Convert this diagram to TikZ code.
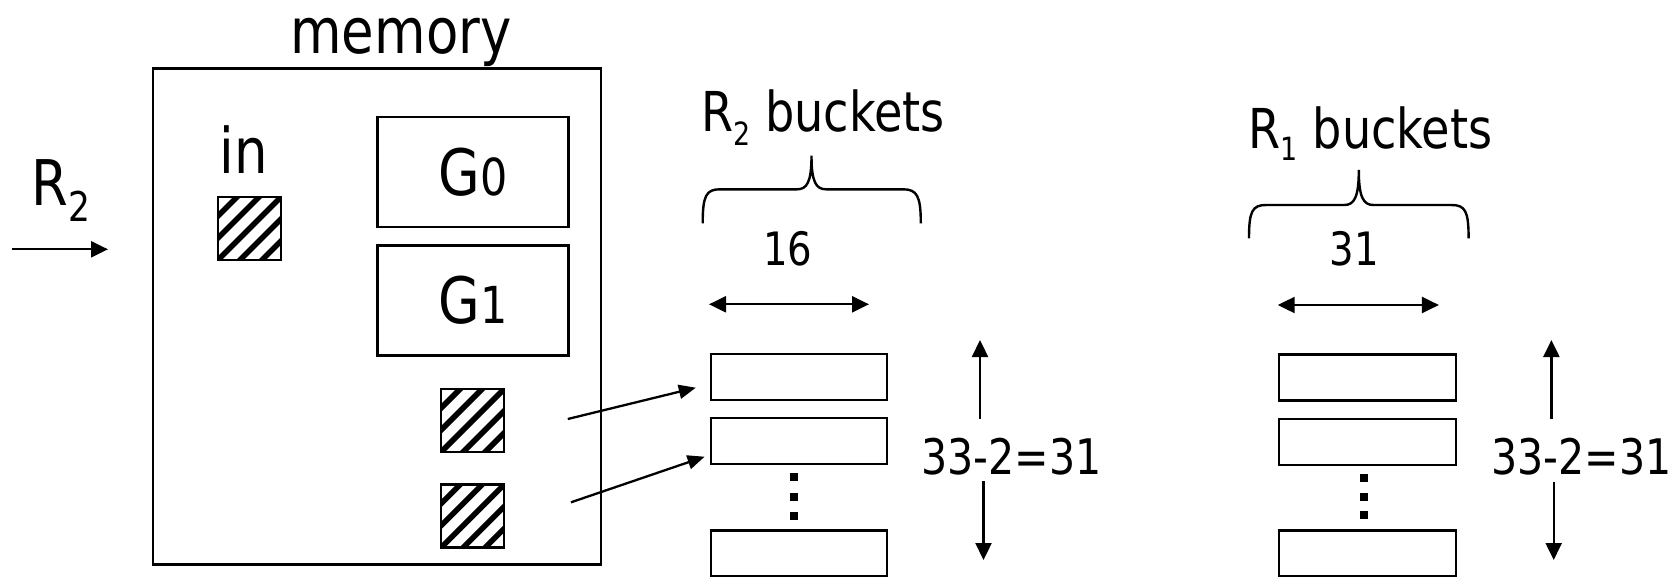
\documentclass[tikz,border=0pt]{standalone}
\usepackage{fontspec}
\setmainfont{DejaVu Sans}[FakeStretch=0.84]
\usetikzlibrary{arrows.meta}
\newcommand{\fsz}[1]{\fontsize{#1}{#1}\selectfont}
\begin{document}
\begin{tikzpicture}[x=1pt,y=-1pt,
  txt/.style={inner sep=0pt, anchor=base},
  box/.style={draw, line width=2.4pt, inner sep=0pt, anchor=north west},
  gbox/.style={box, minimum width=191pt, minimum height=110pt},
  bucket/.style={box, minimum width=176pt, minimum height=46pt},
  dotsq/.style={fill, inner sep=0pt, minimum size=8pt},
  hatch/.style={box, minimum size=63pt,
    path picture={\foreach \k in {-4,...,4}{\draw[line width=5.5pt, shift={(path picture bounding box.center)}] (\k*22-60,60) -- (\k*22+60,-60);}}},
  arr/.style={line width=2.3pt, -{Triangle[length=17pt,width=16pt]}},
  darr/.style={line width=2.3pt, {Triangle[length=17pt,width=16pt]}-{Triangle[length=17pt,width=16pt]}},
  bracepath/.style={line width=2.4pt}
]
\useasboundingbox (0,0) rectangle (1676,576);

% memory
\node[txt] (memlbl) at (401,53) {\fsz{63}memory};
\node[box, line width=2.8pt, minimum width=448pt, minimum height=496pt] (mem) at (151.5,66.7) {};
\node[txt] (inlbl) at (244,173.3) {\fsz{63}in};
\node[hatch] (insq) at (216.5,196) {};
\node[gbox] (g0) at (376.2,116) {\fsz{64}G{\fsz{51}0}};
\node[gbox] (g1) at (376.2,244.3) {\fsz{64}G{\fsz{51}1}};
\node[hatch] (h1) at (440,387.7) {};
\node[hatch] (h2) at (440,483.3) {};

% R2 input
\node[txt] (r2lbl) at (61,205) {\fsz{63}R\raisebox{-16pt}{\fsz{41}2}};
\coordinate (r2a) at (11.9,249.3);
\coordinate (r2b) at (108,249.3);
\draw[arr] (r2a) -- (r2b);

% R2 buckets
\node[txt] (r2b lbl) at (823,131.7) {\fsz{55}R\raisebox{-13.3pt}{\fsz{32}2} buckets};
\draw[bracepath] (702.7,223.3) .. controls (702.7,196) and (706,189.3) .. (720,189.3) -- (797,189.3)
  .. controls (807,189.3) and (811.5,182) .. (811.5,155.7)
  .. controls (811.5,182) and (816,189.3) .. (826,189.3) -- (903,189.3)
  .. controls (917,189.3) and (920.8,196) .. (920.8,223.3);
\node[txt] (n16) at (787.6,265) {\fsz{46}16};
\coordinate (w16a) at (709,304.3);
\coordinate (w16b) at (869,304.3);
\draw[darr] (w16a) -- (w16b);
\node[bucket] (b1) at (709.5,353) {};
\node[bucket] (b2) at (709.5,417) {};
\node[bucket] (b3) at (709.5,529.3) {};
\node[dotsq] (d1) at (794,476.7) {};
\node[dotsq] (d2) at (794,496.7) {};
\node[dotsq] (d3) at (794,515.7) {};
\coordinate (a1s) at (567.8,419);
\coordinate (a1e) at (695.8,387.7);
\coordinate (a2s) at (571,502.3);
\coordinate (a2e) at (704.6,456.7);
\draw[arr, -{Triangle[length=17pt,width=14pt]}] (a1s) -- (a1e);
\draw[arr, -{Triangle[length=17pt,width=14pt]}] (a2s) -- (a2e);
\coordinate (v1a) at (980,419);
\coordinate (v1b) at (980,340);
\coordinate (v2a) at (983.5,481);
\coordinate (v2b) at (983.5,560);
\draw[arr] (v1a) -- (v1b);
\draw[arr] (v2a) -- (v2b);
\node[txt] (cnt1) at (1011.4,474) {\fsz{49}33-2=31};

% R1 buckets
\node[txt] (r1b lbl) at (1370.6,148.3) {\fsz{55}R\raisebox{-11.7pt}{\fsz{32}1} buckets};
\draw[bracepath] (1249,238.3) .. controls (1249,211) and (1252.3,205) .. (1266.3,205) -- (1344.3,205)
  .. controls (1354.3,205) and (1358.8,197) .. (1358.8,170)
  .. controls (1358.8,197) and (1363.3,205) .. (1373.3,205) -- (1451.3,205)
  .. controls (1465.3,205) and (1468.6,211) .. (1468.6,238.3);
\node[txt] (n31) at (1354,265) {\fsz{46}31};
\coordinate (w31a) at (1277.7,305);
\coordinate (w31b) at (1438.9,305);
\draw[darr] (w31a) -- (w31b);
\node[bucket, minimum width=177pt] (c1) at (1277.7,353.3) {};
\node[bucket, minimum width=177pt] (c2) at (1277.7,417.7) {};
\node[bucket, minimum width=177pt] (c3) at (1277.7,529.3) {};
\node[dotsq] (e1) at (1364,477.7) {};
\node[dotsq] (e2) at (1364,496.7) {};
\node[dotsq] (e3) at (1364,515.3) {};
\coordinate (u1a) at (1551.4,419.3);
\coordinate (u1b) at (1551.4,340);
\coordinate (u2a) at (1553.7,481.7);
\coordinate (u2b) at (1553.7,560);
\draw[arr] (u1a) -- (u1b);
\draw[arr] (u2a) -- (u2b);
\node[txt] (cnt2) at (1581.5,474.3) {\fsz{49}33-2=31};
\end{tikzpicture}
\end{document}
